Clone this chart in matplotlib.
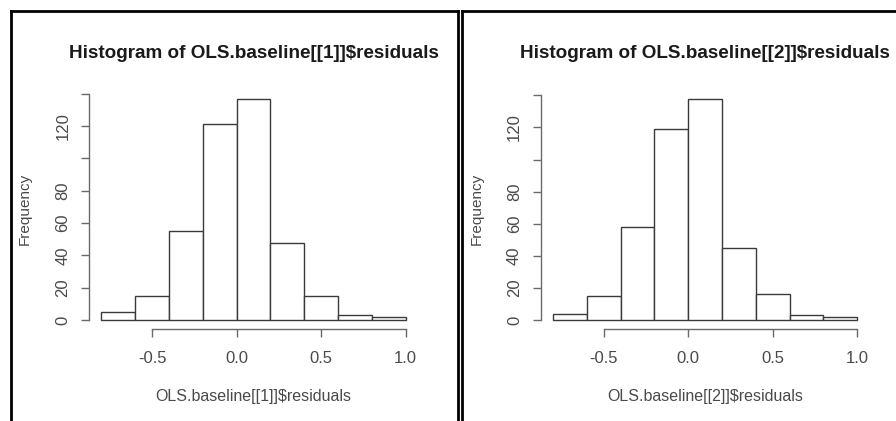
import numpy as np
import matplotlib
matplotlib.use("Agg")
import matplotlib.pyplot as plt
from matplotlib.lines import Line2D

# Histogram bins (width 0.2) and counts for the two residual sets
bin_edges = [-0.8, -0.6, -0.4, -0.2, 0.0, 0.2, 0.4, 0.6, 0.8, 1.0]
counts_1 = [5, 15, 55, 121, 137, 48, 15, 3, 2]
counts_2 = [4, 15, 58, 119, 138, 45, 16, 3, 2]

titles = ["Histogram of OLS.baseline[[1]]$residuals",
          "Histogram of OLS.baseline[[2]]$residuals"]
xlabels = ["OLS.baseline[[1]]$residuals", "OLS.baseline[[2]]$residuals"]
ylabel = "Frequency"

x_ticks = [-0.5, 0.0, 0.5, 1.0]
x_ticklabels = ["-0.5", "0.0", "0.5", "1.0"]
y_ticks = [0, 20, 40, 60, 80, 100, 120, 140]
y_ticklabels = ["0", "20", "40", "60", "80", "", "120", ""]

W, H = 896, 421
plt.rcParams["font.family"] = ["Liberation Sans", "DejaVu Sans"]
fig = plt.figure(figsize=(W / 100, H / 100), dpi=100)
fig.patch.set_facecolor("white")


def fx(x):
    return x / W


def fy(y):
    return 1 - y / H


# panel frames (two R device windows side by side)
frame_kw = dict(color="black", lw=2.0, transform=fig.transFigure, solid_capstyle="projecting")
for x0, x1 in [(11, 457.5), (461.5, 900)]:
    fig.add_artist(Line2D([fx(x0), fx(x1)], [fy(11), fy(11)], **frame_kw))
    fig.add_artist(Line2D([fx(x0), fx(x0)], [fy(11), fy(425)], **frame_kw))
fig.add_artist(Line2D([fx(457.5), fx(457.5)], [fy(11), fy(425)], **frame_kw))

edges = np.array(bin_edges)
axis_col = "#6a6a6a"
text_col = "#4a4a4a"

plot_left, plot_top, plot_w, plot_h = 89.3, 89.7, 328.5, 239.3
offset = 451.5

for i, counts in enumerate([counts_1, counts_2]):
    left = plot_left + i * offset
    ax = fig.add_axes([fx(left), fy(plot_top + plot_h), plot_w / W, plot_h / H])
    ymax = max(counts)
    xr = edges[-1] - edges[0]
    ax.set_xlim(edges[0] - 0.04 * xr, edges[-1] + 0.04 * xr)
    ax.set_ylim(-0.04 * ymax, 1.04 * ymax)

    ax.bar(edges[:-1], counts, width=np.diff(edges), align="edge",
           facecolor="white", edgecolor="#3a3a3a", linewidth=1.0)

    for s in ["top", "right"]:
        ax.spines[s].set_visible(False)
    ax.spines["bottom"].set_bounds(x_ticks[0], x_ticks[-1])
    ax.spines["left"].set_bounds(y_ticks[0], y_ticks[-1])
    for s in ["bottom", "left"]:
        ax.spines[s].set_color(axis_col)
        ax.spines[s].set_linewidth(1.0)

    ax.set_xticks(x_ticks)
    ax.set_xticklabels(x_ticklabels)
    ax.set_yticks(y_ticks)
    ax.set_yticklabels(y_ticklabels, rotation=90, va="center")
    ax.tick_params(axis="both", direction="out", length=5.5, width=1.0,
                   color=axis_col, labelcolor=text_col, labelsize=12)
    ax.tick_params(axis="x", pad=10)
    ax.tick_params(axis="y", pad=8)

    ax.set_xlabel(xlabels[i], fontsize=11.5, color=text_col)
    ax.xaxis.set_label_coords(0.5, (plot_h - (397 - plot_top)) / plot_h)
    ax.xaxis.label.set_va("center")
    ax.set_ylabel(ylabel, fontsize=11, color=text_col)
    ax.yaxis.set_label_coords((25 - 89.3) / plot_w, 0.5)
    ax.yaxis.label.set_va("center")

    ax.text(0.5, (plot_h + (plot_top - 58)) / plot_h, titles[i],
            transform=ax.transAxes, ha="center", va="baseline",
            fontsize=13.6, fontweight="bold", color="#1a1a1a")

fig.savefig("out.png", dpi=100, facecolor="white")
